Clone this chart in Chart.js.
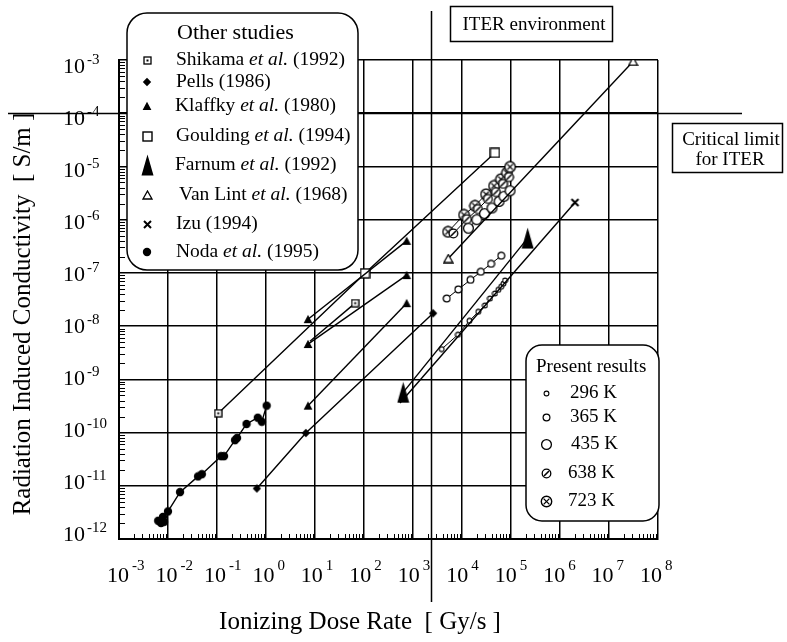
<!DOCTYPE html>
<html>
<head>
<meta charset="utf-8">
<script src="https://cdn.jsdelivr.net/npm/chart.js@4/dist/chart.umd.min.js"></script>
<style>
  html, body { margin: 0; padding: 0; background: #fff; }
  #wrap { width: 787px; height: 642px; }
</style>
</head>
<body>
<div id="wrap"><canvas id="ricChart" width="787" height="642"></canvas></div>
<script>
// tick labels (powers of ten)
const xTickExps = [-3, -2, -1, 0, 1, 2, 3, 4, 5, 6, 7, 8];
const yTickExps = [-12, -11, -10, -9, -8, -7, -6, -5, -4, -3];

// other studies: dose rate [Gy/s] / conductivity [S/m]
const nodaX = [0.0063, 0.0072, 0.0083, 0.0079, 0.010, 0.0176, 0.041, 0.049, 0.121, 0.139, 0.233, 0.256, 0.40, 0.68, 0.82, 1.03];
const nodaY = [2.2e-12, 2.0e-12, 2.1e-12, 2.6e-12, 3.3e-12, 7.6e-12, 1.5e-11, 1.65e-11, 3.6e-11, 3.6e-11, 7.2e-11, 7.9e-11, 1.45e-10, 1.9e-10, 1.6e-10, 3.2e-10];
const pellsX = [0.65, 6.5, 2570];
const pellsY = [8.9e-12, 9.8e-11, 1.74e-8];
const klaffkyX = [7.2, 743];
const klaffkyY1 = [1.35e-8, 4.0e-7];
const klaffkyY2 = [4.6e-9, 9.1e-8];
const klaffkyY3 = [3.2e-10, 2.7e-8];
const shikamaX = [7.9, 66];
const shikamaY = [5.2e-9, 2.7e-8];
const gouldingX = [0.106, 105, 4.7e4];
const gouldingY = [2.3e-10, 9.8e-8, 1.8e-5];
const farnumX = [631, 2.19e5];
const farnumY = [5.7e-10, 4.5e-7];
const vanLintX = [5250, 3.1e7];
const vanLintY = [1.86e-7, 9.4e-4];
const izuX = [543, 2.02e6];
const izuY = [3.6e-10, 2.1e-6];

// present results
const k296X = [3850, 8280, 14200, 21500, 29400, 37200, 47100, 55100, 63100, 70300, 75500];
const k296Y = [3.7e-9, 6.9e-9, 1.26e-8, 1.86e-8, 2.45e-8, 3.3e-8, 4.1e-8, 4.8e-8, 5.5e-8, 6.3e-8, 7.2e-8];
const k365X = [4880, 8390, 14900, 24200, 39100, 63100];
const k365Y = [3.3e-8, 4.9e-8, 7.4e-8, 1.05e-7, 1.48e-7, 2.1e-7];
const k435X = [13500, 20000, 28800, 40900, 56900, 71900, 95500];
const k435Y = [6.9e-7, 1.0e-6, 1.3e-6, 1.66e-6, 2.2e-6, 2.75e-6, 3.5e-6];
const k638X = [6650, 12600, 21200, 33900, 49400, 68700, 91200];
const k638Y = [5.5e-7, 1.02e-6, 1.58e-6, 2.45e-6, 3.3e-6, 4.7e-6, 6.3e-6];
const k723X = [5180, 11000, 18400, 30900, 45000, 62500, 82800, 95500];
const k723Y = [5.9e-7, 1.23e-6, 1.82e-6, 3.0e-6, 4.3e-6, 5.75e-6, 7.6e-6, 9.8e-6];

// ITER marks
const iterDoseRate = 2280;
const criticalLimit = 1e-4;

const otherLabels = [
  ['Shikama ', 'et al.', ' (1992)'],
  ['Pells (1986)'],
  ['Klaffky ', 'et al.', ' (1980)'],
  ['Goulding ', 'et al.', ' (1994)'],
  ['Farnum ', 'et al.', ' (1992)'],
  ['Van Lint ', 'et al.', ' (1968)'],
  ['Izu (1994)'],
  ['Noda ', 'et al.', ' (1995)']
];
const presentLabels = ['296 K', '365 K', '435 K', '638 K', '723 K'];

const serif = '"Liberation Serif", "Times New Roman", serif';

// marker images
function mark(w, h, fn) {
  const c = document.createElement('canvas');
  c.width = w; c.height = h;
  const g = c.getContext('2d');
  g.strokeStyle = '#000'; g.fillStyle = '#000'; g.lineWidth = 1.3;
  fn(g, w, h);
  return c;
}
function ring(g, cx, cy, r, lw) {
  g.beginPath(); g.arc(cx, cy, r, 0, Math.PI * 2);
  g.fillStyle = '#fff'; g.fill();
  g.lineWidth = lw; g.stroke();
}
const marks = {
  noda: mark(10, 10, g => { g.beginPath(); g.arc(5, 5, 4.2, 0, Math.PI * 2); g.fill(); }),
  pells: mark(10, 10, g => { g.beginPath(); g.moveTo(5, 0.8); g.lineTo(9.2, 5); g.lineTo(5, 9.2); g.lineTo(0.8, 5); g.closePath(); g.fill(); }),
  klaffky: mark(10, 10, g => { g.beginPath(); g.moveTo(5, 0.8); g.lineTo(9.4, 9); g.lineTo(0.6, 9); g.closePath(); g.fill(); }),
  shikama: mark(9, 9, g => { g.fillStyle = '#fff'; g.fillRect(1, 1, 7, 7); g.strokeRect(1, 1, 7, 7); g.fillStyle = '#000'; g.fillRect(3.5, 3.5, 2, 2); }),
  goulding: mark(11, 11, g => { g.fillStyle = '#fff'; g.fillRect(1, 1, 9, 9); g.lineWidth = 1.4; g.strokeRect(1, 1, 9, 9); }),
  farnum: mark(13, 22, g => { g.beginPath(); g.moveTo(6.5, 0.5); g.lineTo(12.5, 21.5); g.lineTo(0.5, 21.5); g.closePath(); g.fill(); }),
  vanlint: mark(11, 10, g => { g.beginPath(); g.moveTo(5.5, 1); g.lineTo(10, 9); g.lineTo(1, 9); g.closePath(); g.fillStyle = '#fff'; g.fill(); g.stroke(); }),
  izu: mark(11, 11, g => { g.lineWidth = 2; g.beginPath(); g.moveTo(2, 2); g.lineTo(9, 9); g.moveTo(9, 2); g.lineTo(2, 9); g.stroke(); }),
  k296: mark(7, 7, g => ring(g, 3.5, 3.5, 2.4, 1.1)),
  k365: mark(9, 9, g => ring(g, 4.5, 4.5, 3.4, 1.2)),
  k435: mark(13, 13, g => ring(g, 6.5, 6.5, 4.9, 1.3)),
  k638: mark(11, 11, g => { ring(g, 5.5, 5.5, 4.3, 1.3); g.beginPath(); g.moveTo(3, 8); g.lineTo(8, 3); g.lineWidth = 1.6; g.stroke(); }),
  k723: mark(13, 13, g => { ring(g, 6.5, 6.5, 5.2, 1.4); g.beginPath(); g.moveTo(3.6, 3.6); g.lineTo(9.4, 9.4); g.moveTo(9.4, 3.6); g.lineTo(3.6, 9.4); g.lineWidth = 1.3; g.stroke(); })
};

const pts = (xs, ys) => xs.map((v, i) => ({ x: v, y: ys[i] }));

function series(xs, ys, style, extra) {
  return Object.assign({
    data: pts(xs, ys),
    showLine: true,
    borderColor: '#000',
    borderWidth: 1.4,
    pointStyle: style,
    pointRadius: 4,
    pointHoverRadius: 4
  }, extra || {});
}

function roundBox(ctx, x0, y0, x1, y1, r) {
  ctx.beginPath();
  ctx.moveTo(x0 + r, y0);
  ctx.lineTo(x1 - r, y0); ctx.arcTo(x1, y0, x1, y0 + r, r);
  ctx.lineTo(x1, y1 - r); ctx.arcTo(x1, y1, x1 - r, y1, r);
  ctx.lineTo(x0 + r, y1); ctx.arcTo(x0, y1, x0, y1 - r, r);
  ctx.lineTo(x0, y0 + r); ctx.arcTo(x0, y0, x0 + r, y0, r);
  ctx.closePath();
  ctx.fillStyle = '#fff'; ctx.fill();
  ctx.lineWidth = 1.5; ctx.strokeStyle = '#000'; ctx.stroke();
}

function drawMark(ctx, img, cx, cy) {
  ctx.drawImage(img, Math.round(cx - img.width / 2), Math.round(cy - img.height / 2));
}

const overlay = {
  id: 'overlay',
  afterDraw(chart) {
    const { ctx, chartArea: a, scales: { x, y } } = chart;
    ctx.save();
    ctx.fillStyle = '#000'; ctx.strokeStyle = '#000';

    // minor log ticks on left and bottom axes
    ctx.lineWidth = 1;
    ctx.beginPath();
    for (let d = -3; d < 8; d++) {
      for (let k = 2; k <= 9; k++) {
        const px = Math.round(x.getPixelForValue(k * Math.pow(10, d))) + 0.5;
        ctx.moveTo(px, a.bottom); ctx.lineTo(px, a.bottom - 5);
      }
    }
    for (let d = -12; d < -3; d++) {
      for (let k = 2; k <= 9; k++) {
        const py = Math.round(y.getPixelForValue(k * Math.pow(10, d))) + 0.5;
        ctx.moveTo(a.left, py); ctx.lineTo(a.left + 6, py);
      }
    }
    ctx.stroke();

    // tick labels 10^n
    ctx.textBaseline = 'middle';
    yTickExps.forEach(e => {
      const py = y.getPixelForValue(Math.pow(10, e));
      const ly = py + 7 - (py - a.top) * 0.023;
      ctx.font = '22px ' + serif; ctx.textAlign = 'left';
      ctx.fillText('10', 63, ly);
      const w = ctx.measureText('10').width;
      ctx.font = '15px ' + serif;
      ctx.fillText(String(e), 63 + w + 2, ly - 7);
    });
    xTickExps.forEach(e => {
      const px = x.getPixelForValue(Math.pow(10, e));
      const rx = px + 10 - (px - a.left) * 0.011;
      ctx.font = '22px ' + serif; ctx.textAlign = 'right';
      ctx.fillText('10', rx, 576);
      ctx.font = '15px ' + serif; ctx.textAlign = 'left';
      ctx.fillText(String(e), rx + 3, 566);
    });

    // axis titles
    ctx.font = '25px ' + serif; ctx.textAlign = 'center';
    ctx.fillText('Ionizing Dose Rate  [ Gy/s ]', 360, 622);
    ctx.save();
    ctx.translate(23, 314); ctx.rotate(-Math.PI / 2);
    ctx.fillText('Radiation Induced Conductivity  [ S/m ]', 0, 0);
    ctx.restore();

    // ITER environment and critical limit lines
    const ix = Math.round(x.getPixelForValue(iterDoseRate)) + 0.5;
    const cy = Math.round(y.getPixelForValue(criticalLimit)) + 0.5;
    ctx.lineWidth = 1.5;
    ctx.beginPath();
    ctx.moveTo(ix, 11); ctx.lineTo(ix, 602);
    ctx.moveTo(8, cy); ctx.lineTo(742, cy);
    ctx.stroke();

    // label boxes
    ctx.lineWidth = 1.5;
    ctx.fillStyle = '#fff';
    ctx.fillRect(450, 6, 163, 36); ctx.strokeRect(450.5, 6.5, 162, 35);
    ctx.fillRect(672, 123, 111, 50); ctx.strokeRect(672.5, 123.5, 110, 49);
    ctx.fillStyle = '#000';
    ctx.font = '19px ' + serif; ctx.textAlign = 'center';
    ctx.fillText('ITER environment', 534, 25);
    ctx.fillText('Critical limit', 731, 140);
    ctx.fillText('for ITER', 730, 160);

    // legend: other studies
    roundBox(ctx, 127, 13, 358, 270, 20);
    ctx.fillStyle = '#000'; ctx.textAlign = 'left';
    ctx.font = '22px ' + serif;
    ctx.fillText('Other studies', 177, 33);
    const otherMarks = [marks.shikama, marks.pells, marks.klaffky, marks.goulding, marks.farnum, marks.vanlint, marks.izu, marks.noda];
    const otherRows = [60, 82, 106, 136, 165, 195, 224, 252];
    const otherText = [176, 176, 175, 176, 175, 179, 176, 176];
    otherLabels.forEach((parts, i) => {
      drawMark(ctx, otherMarks[i], 147, otherRows[i]);
      let tx = otherText[i];
      parts.forEach((p, j) => {
        ctx.font = (j === 1 ? 'italic ' : '') + '19.5px ' + serif;
        ctx.fillText(p, tx, otherRows[i]);
        tx += ctx.measureText(p).width;
      });
    });

    // legend: present results
    roundBox(ctx, 526, 345, 659, 521, 16);
    ctx.fillStyle = '#000';
    ctx.font = '19px ' + serif;
    ctx.fillText('Present results', 536, 367);
    const presentMarks = [marks.k296, marks.k365, marks.k435, marks.k638, marks.k723];
    const presentRows = [393, 417, 444, 473, 501];
    const presentText = [570, 570, 571, 568, 568];
    ctx.font = '19px ' + serif;
    presentLabels.forEach((t, i) => {
      drawMark(ctx, presentMarks[i], 546, presentRows[i]);
      ctx.fillText(t, presentText[i], presentRows[i]);
    });
    ctx.restore();
  }
};

const decadeTicks = exps => exps.map(e => ({ value: Math.pow(10, e) }));

new Chart(document.getElementById('ricChart').getContext('2d'), {
  type: 'scatter',
  data: {
    datasets: [
      series(nodaX, nodaY, marks.noda),
      series(pellsX, pellsY, marks.pells),
      series(klaffkyX, klaffkyY1, marks.klaffky),
      series(klaffkyX, klaffkyY2, marks.klaffky),
      series(klaffkyX, klaffkyY3, marks.klaffky),
      series(shikamaX, shikamaY, marks.shikama, { pointRadius: [0, 4] }),
      series(gouldingX, gouldingY, [marks.shikama, marks.goulding, marks.goulding]),
      series(vanLintX, vanLintY, marks.vanlint),
      series(izuX, izuY, marks.izu, { pointRadius: [0, 4] }),
      series(farnumX, farnumY, marks.farnum),
      series(k296X, k296Y, marks.k296, { borderWidth: 1 }),
      series(k365X, k365Y, marks.k365, { borderWidth: 1 }),
      series(k435X, k435Y, marks.k435, { borderWidth: 1 }),
      series(k638X, k638Y, marks.k638, { borderWidth: 1 }),
      series(k723X, k723Y, marks.k723, { borderWidth: 1 })
    ]
  },
  options: {
    responsive: false,
    devicePixelRatio: 1,
    animation: false,
    layout: { padding: { left: 119, right: 129, top: 60, bottom: 103 } },
    plugins: {
      legend: { display: false },
      tooltip: { enabled: false }
    },
    scales: {
      x: {
        type: 'logarithmic',
        min: 1e-3,
        max: 1e8,
        afterBuildTicks: s => { s.ticks = decadeTicks(xTickExps); },
        ticks: { display: false },
        grid: { color: '#000', lineWidth: 1.5, drawTicks: false },
        border: { display: true, color: '#000', width: 2 }
      },
      y: {
        type: 'logarithmic',
        min: 1e-12,
        max: 1e-3,
        afterBuildTicks: s => { s.ticks = decadeTicks(yTickExps); },
        ticks: { display: false },
        grid: { color: '#000', lineWidth: 1.5, drawTicks: false },
        border: { display: true, color: '#000', width: 2 }
      }
    }
  },
  plugins: [overlay]
});
</script>
</body>
</html>
